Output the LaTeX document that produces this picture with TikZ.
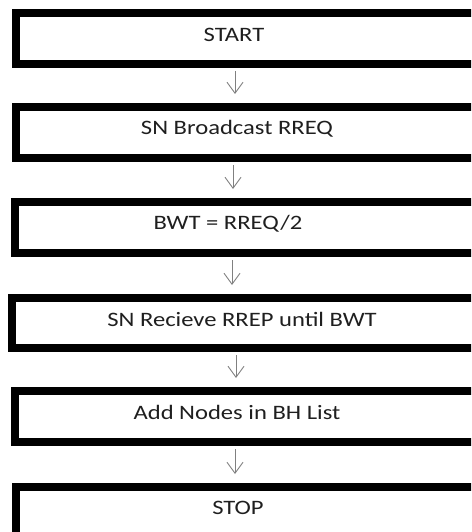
\documentclass[tikz,border=0pt]{standalone}
\usepackage{fontspec}
\setmainfont{Carlito}
\usetikzlibrary{arrows.meta}
\tikzset{
  stepbox/.style={draw=black, line width=8pt, fill=white, rectangle,
    inner sep=0pt, outer sep=4pt},
  steptext/.style={text=black!88, font=\fontsize{20.5}{24}\selectfont,
    inner sep=0pt},
  flow/.style={draw=black!50, line width=0.9pt,
    -{Straight Barb[length=11pt,width=16pt,line width=0.9pt]},
    shorten <=3pt, shorten >=9pt},
}
\newcommand{\wide}[1]{\scalebox{1.2}[1]{#1}}
\begin{document}
\begin{tikzpicture}[x=1pt,y=-1pt]
  \useasboundingbox (0,0) rectangle (471,532);
  \begin{scope}
    \clip (0,0) rectangle (471,532);
    % boxes: outer left edge, outer top and bottom edges; right side runs off the page
    \node[stepbox, minimum width=480pt, minimum height=51pt, anchor=north west] (b1) at (12,9) {};
    \node[stepbox, minimum width=480pt, minimum height=51pt, anchor=north west] (b2) at (12,103) {};
    \node[stepbox, minimum width=480pt, minimum height=51pt, anchor=north west] (b3) at (11,198) {};
    \node[stepbox, minimum width=480pt, minimum height=50pt, anchor=north west] (b4) at (8,294) {};
    \node[stepbox, minimum width=480pt, minimum height=51pt, anchor=north west] (b5) at (11,387) {};
    \node[stepbox, minimum width=480pt, minimum height=49pt, anchor=north west] (b6) at (12,483) {};
  \end{scope}

  % labels
  \node[steptext] (t1) at (234,34.5) {\wide{START}};
  \node[steptext] (t2) at (237,128.5) {\wide{SN Broadcast RREQ}};
  \node[steptext] (t3) at (228,223.5) {\wide{BWT = RREQ/2}};
  \node[steptext] (t4) at (242,319) {\wide{SN Recieve RREP until BWT}};
  \node[steptext] (t5) at (237,412.5) {\wide{Add Nodes in BH List}};
  \node[steptext] (t6) at (238,507.5) {\wide{STOP}};

  % connector column
  \coordinate (ax1) at (235,0);
  \coordinate (ax2) at (233,0);
  \coordinate (ax3) at (232,0);
  \coordinate (ax4) at (236,0);
  \coordinate (ax5) at (235,0);
  \draw[flow] (b1.south -| ax1) -- (b2.north -| ax1);
  \draw[flow] (b2.south -| ax2) -- (b3.north -| ax2);
  \draw[flow] (b3.south -| ax3) -- (b4.north -| ax3);
  \draw[flow] (b4.south -| ax4) -- (b5.north -| ax4);
  \draw[flow] (b5.south -| ax5) -- (b6.north -| ax5);
\end{tikzpicture}
\end{document}
